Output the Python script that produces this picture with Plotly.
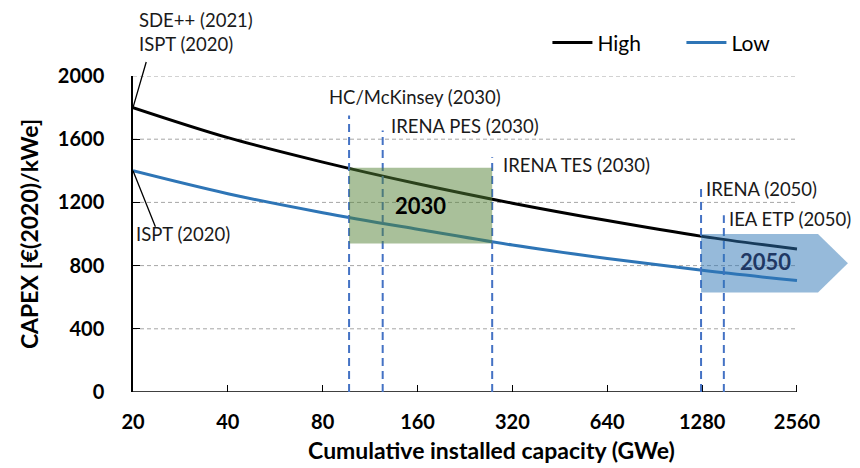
import math
import plotly.graph_objects as go

# ---------------- data ----------------
capacity = [20, 40, 80, 160, 320, 640, 1280, 2560]          # GWe
capex_high = [1800, 1610, 1455, 1318, 1195, 1085, 985, 905]  # EUR(2020)/kWe
capex_low = [1400, 1255, 1135, 1030, 930, 845, 770, 705]

x_ticks = [20, 40, 80, 160, 320, 640, 1280, 2560]
x_ticklabels = ["20", "40", "80", "160", "320", "640", "1280", "2560"]
y_ticks = [0, 400, 800, 1200, 1600, 2000]

ref_names = ["HC/McKinsey (2030)", "IRENA PES (2030)", "IRENA TES (2030)",
             "IRENA (2050)", "IEA ETP (2050)"]
ref_capacity = [97, 124, 276, 1270, 1500]
ref_line_top = [1750, 1655, 1485, 1295, 1118]
ref_label_y = [1867, 1684, 1437, 1285, 1095]

box2030_x = [97, 276]
box2030_y = [940, 1420]
arrow2050_x = [1270, 2984, 3714]
arrow2050_y = [630, 1000]

start_high = (20, 1800)
start_low = (20, 1400)

x_axis_end = 2560
x_view_max = 3771

FONT = "Lato"
BLUE = "#2E75B6"
DASH_BLUE = "#4472C4"

fig = go.Figure()

fig.add_trace(go.Scatter(x=capacity, y=capex_high, mode="lines", name="High",
                         line=dict(color="black", width=3, shape="spline")))
fig.add_trace(go.Scatter(x=capacity, y=capex_low, mode="lines", name="Low",
                         line=dict(color=BLUE, width=3, shape="spline")))
fig.add_trace(go.Scatter(x=[start_high[0], start_low[0]], y=[start_high[1], start_low[1]],
                         mode="markers", showlegend=False, cliponaxis=False,
                         marker=dict(color="black", size=10)))

shapes = []
# horizontal gridlines (only up to 2560)
for yv in y_ticks[1:]:
    shapes.append(dict(type="line", xref="x", yref="y", x0=capacity[0], x1=x_axis_end,
                       y0=yv, y1=yv, layer="below",
                       line=dict(color="#A6A6A6", width=1, dash="4px,3px")))
# x axis line
shapes.append(dict(type="line", xref="x", yref="y", x0=capacity[0], x1=x_axis_end,
                   y0=0, y1=0, layer="above", line=dict(color="black", width=1.5)))
# reference dashed lines
for xv, top in zip(ref_capacity, ref_line_top):
    shapes.append(dict(type="line", xref="x", yref="y", x0=xv, x1=xv, y0=0, y1=top,
                       layer="above", line=dict(color=DASH_BLUE, width=2, dash="8px,5px")))
# 2030 box
shapes.append(dict(type="rect", xref="x", yref="y", x0=box2030_x[0], x1=box2030_x[1],
                   y0=box2030_y[0], y1=box2030_y[1], layer="above",
                   fillcolor="rgba(84,130,53,0.5)", line=dict(width=0)))
# 2050 arrow
ymid = (arrow2050_y[0] + arrow2050_y[1]) / 2
path = (f"M {arrow2050_x[0]},{arrow2050_y[0]} L {arrow2050_x[0]},{arrow2050_y[1]} "
        f"L {arrow2050_x[1]},{arrow2050_y[1]} L {arrow2050_x[2]},{ymid} "
        f"L {arrow2050_x[1]},{arrow2050_y[0]} Z")
shapes.append(dict(type="path", xref="x", yref="y", path=path, layer="above",
                   fillcolor="rgba(46,117,182,0.5)", line=dict(width=0)))

L = math.log10
annotations = []
txt_font = dict(family=FONT, size=18.5, color="#1a1a1a")
# reference labels
label_shift = [0, 6, 9, 3, 3]
label_anchor = ["center", "left", "left", "left", "left"]
for name, xv, yl, sh, anc in zip(ref_names, ref_capacity, ref_label_y, label_shift, label_anchor):
    if anc == "center":
        annotations.append(dict(x=L(157), y=yl, xref="x", yref="y", text=name,
                                showarrow=False, xanchor="center", yanchor="middle",
                                font=txt_font))
    else:
        annotations.append(dict(x=L(xv), y=yl, xref="x", yref="y", text=name,
                                showarrow=False, xanchor="left", yanchor="middle",
                                xshift=sh, font=txt_font))
# box labels
annotations.append(dict(x=L(math.sqrt(box2030_x[0] * box2030_x[1])),
                        y=sum(box2030_y) / 2, xref="x", yref="y", text="<b>2030</b>",
                        showarrow=False, font=dict(family=FONT, size=22, color="black")))
annotations.append(dict(x=L(2041), y=823, xref="x", yref="y", text="<b>2050</b>",
                        showarrow=False, font=dict(family=FONT, size=22, color="#1F3864")))
# leader lines for starting points
annotations.append(dict(x=L(start_high[0]), y=start_high[1], ax=L(22.1), ay=2098,
                        xref="x", yref="y", axref="x", ayref="y", text="",
                        showarrow=True, arrowhead=0, arrowwidth=1.3, arrowcolor="black",
                        standoff=0, startstandoff=0))
annotations.append(dict(x=L(start_low[0]), y=start_low[1], ax=L(23.66), ay=1036,
                        xref="x", yref="y", axref="x", ayref="y", text="",
                        showarrow=True, arrowhead=0, arrowwidth=1.3, arrowcolor="black",
                        standoff=0, startstandoff=0))
annotations.append(dict(x=L(20.6), y=1.139, xref="x", yref="paper",
                        text="SDE++ (2021)<br>ISPT (2020)", align="left",
                        showarrow=False, xanchor="left", yanchor="middle", font=txt_font))
annotations.append(dict(x=L(20.1), y=1085, xref="x", yref="y", text="ISPT (2020)",
                        showarrow=False, xanchor="left", yanchor="top", font=txt_font))

fig.update_layout(
    width=852, height=460,
    margin=dict(l=125, r=10, t=68, b=76, autoexpand=False),
    paper_bgcolor="white", plot_bgcolor="white",
    font=dict(family=FONT, color="black"),
    shapes=shapes, annotations=annotations,
    legend=dict(orientation="h", x=0.578, y=1.105, xanchor="left", yanchor="middle",
                font=dict(family=FONT, size=21, color="black"),
                bgcolor="rgba(0,0,0,0)", itemwidth=40, entrywidth=79),
    xaxis=dict(type="log", range=[L(capacity[0]), L(x_view_max)], automargin=False,
               tickvals=x_ticks, ticktext=x_ticklabels,
               ticks="inside", ticklen=7, tickwidth=1.3, tickcolor="black",
               showgrid=False, zeroline=False, showline=False,
               tickfont=dict(family=FONT, size=20, color="black", weight="bold"),
               ticklabelstandoff=16,
               title=dict(text="<b>Cumulative installed capacity (GWe)</b>",
                          font=dict(family=FONT, size=23, color="black"), standoff=10)),
    yaxis=dict(range=[0, 2000], tickvals=y_ticks, automargin=False,
               ticks="inside", ticklen=7, tickwidth=1.3, tickcolor="black",
               showgrid=False, zeroline=False, showline=True, linecolor="black",
               linewidth=1.5,
               tickfont=dict(family=FONT, size=20, color="black", weight="bold"),
               ticklabelstandoff=23,
               title=dict(text="<b>CAPEX [€(2020)/kWe]</b>",
                          font=dict(family=FONT, size=23, color="black"), standoff=13)),
)

fig.write_html("out.html")
